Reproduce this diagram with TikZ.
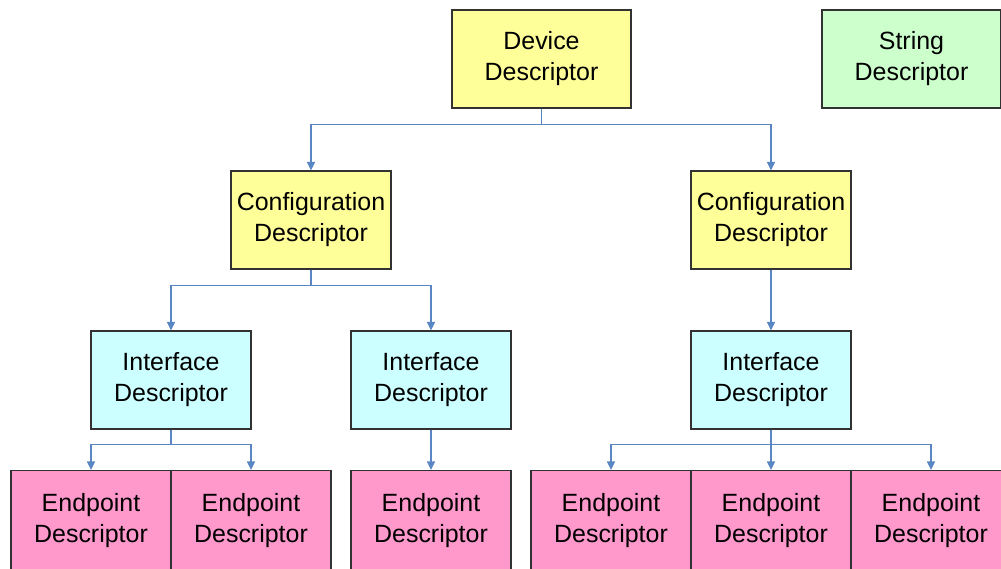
\documentclass[tikz,border=0pt]{standalone}
\usepackage{fontspec}
\setmainfont{Liberation Sans}
\usetikzlibrary{arrows.meta, positioning, calc}
\definecolor{DescYellow}{RGB}{255, 255, 153}
\definecolor{DescGreen}{RGB}{204, 255, 204}
\definecolor{DescCyan}{RGB}{204, 255, 255}
\definecolor{DescPink}{RGB}{255, 153, 204}
\definecolor{LinkBlue}{RGB}{91, 134, 196}
\definecolor{EdgeGrey}{RGB}{50, 50, 50}

\begin{document}
\begin{tikzpicture}[
    font=\fontsize{14.2}{17.6}\selectfont,
    descbox/.style={
        draw=EdgeGrey,
        line width=0.7pt,
        align=center,
        inner sep=0pt,
        minimum width=3.2cm,
        minimum height=1.96cm
    },
    devbox/.style={descbox, fill=DescYellow, minimum width=3.58cm},
    strbox/.style={descbox, fill=DescGreen, minimum width=3.58cm},
    cfgbox/.style={descbox, fill=DescYellow},
    ifcbox/.style={descbox, fill=DescCyan},
    epbox/.style={descbox, fill=DescPink, minimum height=2.0cm},
    flow/.style={-{Triangle[length=1.7mm, width=1.6mm]}, draw=LinkBlue, line width=0.85pt}
]
\clip (0,0) rectangle (20.02,-11.36);

% top level
\node[devbox] (dev) at (10.83,-1.18) {Device\\Descriptor};
\node[strbox] (str) at (18.23,-1.18) {String\\Descriptor};

% configurations
\node[cfgbox] (cfg_l) at (6.22,-4.40) {Configuration\\Descriptor};
\node[cfgbox] (cfg_r) at (15.42,-4.40) {Configuration\\Descriptor};

% interfaces
\node[ifcbox] (ifc_a) at (3.42,-7.60) {Interface\\Descriptor};
\node[ifcbox] (ifc_b) at (8.62,-7.60) {Interface\\Descriptor};
\node[ifcbox] (ifc_c) at (15.42,-7.60) {Interface\\Descriptor};

% endpoints
\node[epbox] (ep_a1) at (1.82,-10.41) {Endpoint\\Descriptor};
\node[epbox] (ep_a2) at (5.02,-10.41) {Endpoint\\Descriptor};
\node[epbox] (ep_b1) at (8.62,-10.41) {Endpoint\\Descriptor};
\node[epbox] (ep_c1) at (12.22,-10.41) {Endpoint\\Descriptor};
\node[epbox] (ep_c2) at (15.42,-10.41) {Endpoint\\Descriptor};
\node[epbox] (ep_c3) at (18.62,-10.41) {Endpoint\\Descriptor};

\draw[flow] (dev.south) -- ++(0,-0.32) -| (cfg_l.north);
\draw[flow] (dev.south) -- ++(0,-0.32) -| (cfg_r.north);

\draw[flow] (cfg_l.south) -- ++(0,-0.32) -| (ifc_a.north);
\draw[flow] (cfg_l.south) -- ++(0,-0.32) -| (ifc_b.north);
\draw[flow] (cfg_r.south) -- (ifc_c.north);

\draw[flow] (ifc_a.south) -- ++(0,-0.30) -| (ep_a1.north);
\draw[flow] (ifc_a.south) -- ++(0,-0.30) -| (ep_a2.north);
\draw[flow] (ifc_b.south) -- (ep_b1.north);
\draw[flow] (ifc_c.south) -- ++(0,-0.30) -| (ep_c1.north);
\draw[flow] (ifc_c.south) -- (ep_c2.north);
\draw[flow] (ifc_c.south) -- ++(0,-0.30) -| (ep_c3.north);

\end{tikzpicture}
\end{document}
